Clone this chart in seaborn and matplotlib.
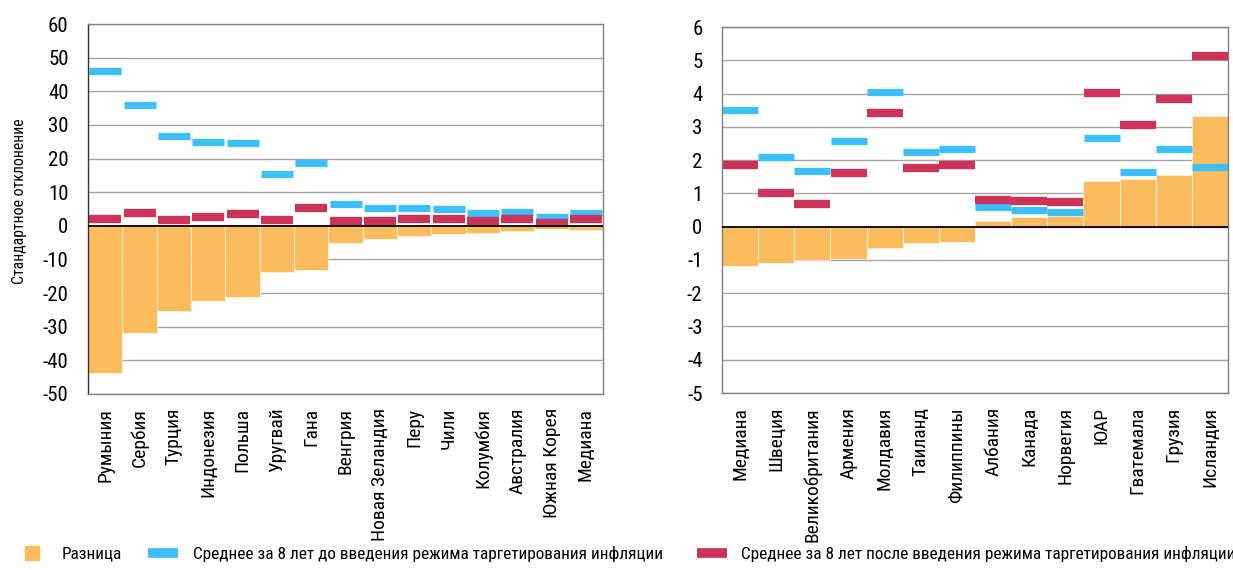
import matplotlib
matplotlib.use("Agg")
import matplotlib.pyplot as plt
from matplotlib import font_manager
import seaborn as sns
from matplotlib.lines import Line2D

# ==========================
# DATA
# ==========================

left_countries = ["Румыния", "Сербия", "Турция", "Индонезия", "Польша", "Уругвай", "Гана",
                  "Венгрия", "Новая Зеландия", "Перу", "Чили", "Колумбия", "Австралия",
                  "Южная Корея", "Медиана"]
left_before = [45.9, 36.0, 26.8, 25.0, 24.7, 15.4, 18.6, 6.6, 5.4, 5.2, 4.9, 3.8, 4.0, 2.5, 3.9]
left_after = [1.9, 3.9, 1.6, 2.7, 3.5, 1.7, 5.3, 1.4, 1.4, 2.0, 2.0, 1.5, 2.1, 0.9, 2.0]
left_diff = [-43.9, -32.0, -25.3, -22.3, -21.1, -13.8, -13.2, -5.2, -3.9, -2.9, -2.5, -2.1, -1.4, -1.0, -1.1]

right_countries = ["Медиана", "Швеция", "Великобритания", "Армения", "Молдавия", "Таиланд",
                   "Филиппины", "Албания", "Канада", "Норвегия", "ЮАР", "Гватемала",
                   "Грузия", "Исландия"]
right_before = [3.52, 2.09, 1.66, 2.59, 4.06, 2.23, 2.32, 0.60, 0.50, 0.45, 2.67, 1.63, 2.32, 1.80]
right_after = [1.85, 1.01, 0.67, 1.62, 3.42, 1.75, 1.85, 0.80, 0.78, 0.75, 4.01, 3.06, 3.85, 5.12]
right_diff = [-1.18, -1.08, -0.99, -0.96, -0.64, -0.48, -0.45, 0.16, 0.30, 0.32, 1.36, 1.43, 1.55, 3.33]

left_ticks = list(range(-50, 61, 10))
right_ticks = list(range(-5, 7, 1))

ORANGE = "#FBBC5E"
BLUE = "#3DBEFD"
RED = "#CC3358"
GRID = "#a6a6a6"

# ==========================
# FONT: prefer a narrow face
# ==========================

fonts = font_manager.fontManager.ttflist
names = {f.name for f in fonts}
narrow = None
for cand in ["Liberation Sans Narrow", "Roboto Condensed", "Open Sans Condensed", "Noto Sans Condensed"]:
    if cand in names:
        narrow = cand
        break

condensed = False
if narrow:
    plt.rcParams["font.family"] = [narrow, "DejaVu Sans"]
    condensed = True
else:
    cond = [f for f in fonts if f.name == "DejaVu Sans" and "condensed" in str(f.stretch)]
    plt.rcParams["font.family"] = ["DejaVu Sans"]
    if cond:
        plt.rcParams["font.stretch"] = "condensed"
        condensed = True
plt.rcParams["axes.unicode_minus"] = False

if condensed:
    FS_Y, FS_X, FS_LAB, FS_LEG = 15, 14, 11.3, 12.4
else:
    FS_Y, FS_X, FS_LAB, FS_LEG = 12, 10, 10.5, 11

fig = plt.figure(figsize=(12.33, 5.70), dpi=100)
ax1 = fig.add_axes([0.0714, 0.3088, 0.4177, 0.649])
ax2 = fig.add_axes([0.5856, 0.3105, 0.4104, 0.642])


def draw_panel(ax, countries, diff, before, after, ticks, mw, left_spine):
    sns.barplot(x=countries, y=diff, color=ORANGE, width=1, saturation=1,
                edgecolor="white", linewidth=0.4, ax=ax)
    sns.pointplot(x=countries, y=before, color=BLUE, markers="_", linestyles="none",
                  errorbar=None, markersize=mw, markeredgewidth=5.2, ax=ax)
    sns.pointplot(x=countries, y=after, color=RED, markers="_", linestyles="none",
                  errorbar=None, markersize=mw, markeredgewidth=6, ax=ax)
    ax.axhline(0, color="black", linewidth=1.3, zorder=5)
    ax.set_ylim(ticks[0], ticks[-1])
    ax.set_xlim(-0.5, len(countries) - 0.5)
    ax.set_yticks(ticks)
    ax.set_yticklabels([str(t) for t in ticks], fontsize=FS_Y)
    ax.set_xticks(range(len(countries)))
    ax.set_xticklabels(countries, rotation=90, fontsize=FS_X)
    ax.tick_params(axis="both", length=0)
    ax.tick_params(axis="y", pad=14)
    ax.tick_params(axis="x", pad=10)
    ax.yaxis.grid(True, color=GRID, linewidth=1)
    ax.set_axisbelow(True)
    for s in ax.spines.values():
        s.set_color("#808080")
        s.set_linewidth(1)
    ax.spines["left"].set_color(left_spine)
    ax.set_xlabel("")
    ax.set_ylabel("")


draw_panel(ax1, left_countries, left_diff, left_before, left_after, left_ticks, 23.5, "#303030")
draw_panel(ax2, right_countries, right_diff, right_before, right_after, right_ticks, 25.5, "#808080")

ax1.set_ylabel("Стандартное отклонение", fontsize=FS_LAB)
ax1.yaxis.set_label_coords(-0.118, 0.52)

# ==========================
# LEGEND
# ==========================

h_diff = Line2D([], [], marker="s", markersize=10.5, linestyle="none", color=ORANGE)
h_before = Line2D([], [], linewidth=7, color=BLUE, solid_capstyle="butt")
h_after = Line2D([], [], linewidth=7, color=RED, solid_capstyle="butt")

legend_items = [
    (h_diff, "Разница", 0.014),
    (h_before, "Среднее за 8 лет до введения режима таргетирования инфляции", 0.120),
    (h_after, "Среднее за 8 лет после введения режима таргетирования инфляции", 0.565),
]
for h, label, x in legend_items:
    fig.legend([h], [label], loc="center left", bbox_to_anchor=(x, 0.028),
               frameon=False, fontsize=FS_LEG, handlelength=1.75, handletextpad=0.85,
               borderpad=0, borderaxespad=0)

plt.savefig("out.png", dpi=100)
plt.close()
